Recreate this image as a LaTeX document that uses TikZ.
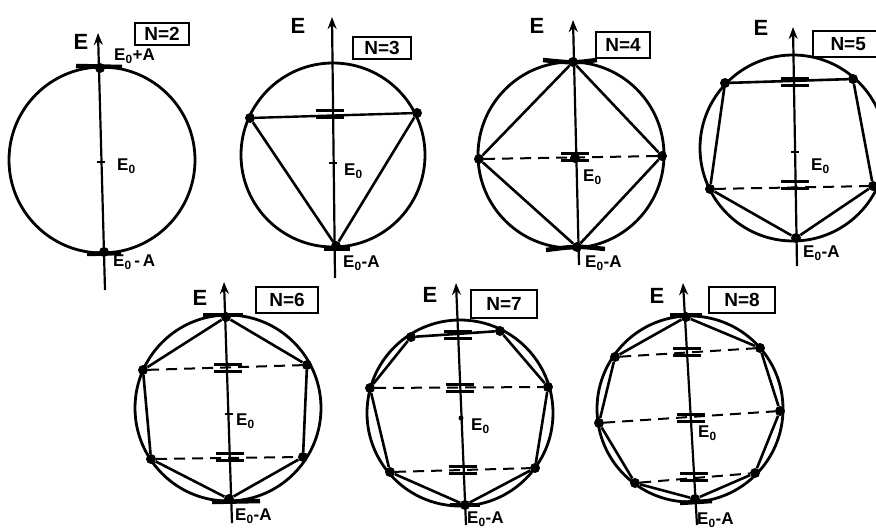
\documentclass[tikz,border=0pt]{standalone}
\usepackage{fontspec}
\setmainfont{Liberation Sans}
\usetikzlibrary{arrows.meta}
\newcommand{\Ez}{E\textsubscript{0}}
\begin{document}
\begin{tikzpicture}[x=1pt,y=-1pt,
  circ/.style={line width=2.8pt},
  edge/.style={line width=2.6pt, line join=round},
  chord/.style={line width=2pt, dash pattern=on 11pt off 7pt},
  solidchord/.style={line width=2.4pt},
  axisline/.style={line width=2.2pt,-{Stealth[length=12pt,width=9pt]}},
  vtx/.style={circle,fill,inner sep=0pt,minimum size=10pt},
  lvl/.style={line width=4.5pt},
  lab/.style={font=\fontsize{17}{17}\selectfont\bfseries, inner sep=1pt, anchor=west},
  elab/.style={font=\fontsize{22}{22}\selectfont\bfseries, inner sep=1pt},
  nbox/.style={draw,line width=2.4pt,font=\fontsize{19}{19}\selectfont\bfseries,inner sep=2pt,minimum height=22pt},
  dbl/.pic={\draw[line width=2.8pt] (-14,-3.5)--(14,-3.5) (-14,3.5)--(14,3.5);},
  etick/.pic={\draw[line width=2.8pt] (-4,0)--(4,0);}
]
\useasboundingbox (0,0) rectangle (876,532);

% ---------------- N=2
\coordinate (a2b) at (105,290); \coordinate (a2t) at (98,33);
\draw[circ] (102,160) circle[radius=93];
\draw[axisline] (a2b) -- (a2t);
\draw[lvl] (76,66) -- (122,67);
\draw[lvl] (87,254) -- (121,253);
\node[vtx] (v2t) at (100,68) {};
\node[vtx] (v2b) at (104,252) {};
\pic at (101,162) {etick};
\node[elab] (e2) at (81,42) {E};
\node[nbox,minimum width=54pt] (n2) at (162,34) {N=2};
\node[lab] (l2a) at (113,56) {\Ez+A};
\node[lab] (l2b) at (116,166) {\Ez};
\node[lab] (l2c) at (112,262) {\Ez\,-\,A};

% ---------------- N=3
\coordinate (a3b) at (335,278); \coordinate (a3t) at (332,17);
\draw[circ] (333,155) circle[radius=92];
\draw[axisline] (a3b) -- (a3t);
\node[vtx] (v3a) at (250,118) {};
\node[vtx] (v3b) at (417,113) {};
\node[vtx] (v3c) at (336,246) {};
\draw[solidchord] (v3a) -- (v3b);
\draw[edge] (v3b) -- (v3c) -- (v3a);
\draw[lvl] (324,249) -- (350,249);
\pic at (330,114) {dbl};
\pic at (333,163) {etick};
\node[elab] (e3) at (298,26) {E};
\node[nbox,minimum width=58pt] (n3) at (382,48) {N=3};
\node[lab] (l3b) at (343,171) {\Ez};
\node[lab] (l3c) at (342,263) {\Ez-A};

% ---------------- N=4
\coordinate (a4b) at (579,265); \coordinate (a4t) at (573,20);
\draw[circ] (571,155) circle[radius=93];
\draw[axisline] (a4b) -- (a4t);
\node[vtx] (v4t) at (573,62) {};
\node[vtx] (v4l) at (479,159) {};
\node[vtx] (v4r) at (662,156) {};
\node[vtx] (v4b) at (577,247) {};
\draw[edge] (v4t) -- (v4r) -- (v4b) -- (v4l) -- (v4t);
\draw[chord] (v4l) -- (v4r);
\draw[lvl] (543,60) .. controls (573,63) .. (597,60);
\draw[lvl] (546,250) .. controls (577,246) .. (605,249);
\pic at (575,157) {dbl};
\node[vtx] (v4c) at (575,158) {};
\node[elab] (e4) at (537,26) {E};
\node[nbox,minimum width=54pt,minimum height=26pt] (n4) at (623,45) {N=4};
\node[lab] (l4b) at (582,177) {\Ez};
\node[lab] (l4c) at (584,263) {\Ez-A};

% ---------------- N=5
\coordinate (a5b) at (797,266); \coordinate (a5t) at (793,27);
\draw[circ] (793,148) circle[radius=93];
\draw[axisline] (a5b) -- (a5t);
\node[vtx] (v5a) at (725,83) {};
\node[vtx] (v5b) at (853,79) {};
\node[vtx] (v5c) at (873,186) {};
\node[vtx] (v5d) at (796,238) {};
\node[vtx] (v5e) at (710,189) {};
\draw[edge] (v5a) -- (v5b) -- (v5c) -- (v5d) -- (v5e) -- (v5a);
\draw[chord] (v5e) -- (v5c);
\pic at (795,82) {dbl};
\pic at (795,185) {dbl};
\pic at (795,152) {etick};
\node[elab] (e5) at (761,28) {E};
\node[nbox,minimum width=70pt,minimum height=26pt,anchor=west] (n5) at (812,44) {N=5\hspace{14pt}};
\node[lab] (l5b) at (810,166) {\Ez};
\node[lab] (l5c) at (802,253) {\Ez-A};

% ---------------- N=6
\coordinate (a6b) at (232,523); \coordinate (a6t) at (224,282);
\draw[circ] (228,408) circle[radius=93];
\draw[axisline] (a6b) -- (a6t);
\node[vtx] (v6a) at (226,317) {};
\node[vtx] (v6b) at (307,365) {};
\node[vtx] (v6c) at (303,457) {};
\node[vtx] (v6d) at (229,499) {};
\node[vtx] (v6e) at (151,459) {};
\node[vtx] (v6f) at (143,370) {};
\draw[edge] (v6a) -- (v6b) -- (v6c) -- (v6d) -- (v6e) -- (v6f) -- (v6a);
\draw[chord] (v6f) -- (v6b);
\draw[chord] (v6e) -- (v6c);
\draw[lvl] (203,315) -- (243,315);
\draw[lvl] (212,502) -- (260,501);
\pic at (228,368) {dbl};
\pic at (230,457) {dbl};
\pic at (229,414) {etick};
\node[elab] (e6) at (200,298) {E};
\node[nbox,minimum width=62pt,minimum height=26pt] (n6) at (287,300) {N=6};
\node[lab] (l6b) at (235,421) {\Ez};
\node[lab] (l6c) at (234,516) {\Ez-A};

% ---------------- N=7
\coordinate (a7b) at (466,525); \coordinate (a7t) at (456,283);
\draw[circ] (460,413) circle[radius=93];
\draw[axisline] (a7b) -- (a7t);
\node[vtx] (v7a) at (411,337) {};
\node[vtx] (v7b) at (500,331) {};
\node[vtx] (v7c) at (548,387) {};
\node[vtx] (v7d) at (535,468) {};
\node[vtx] (v7e) at (465,505) {};
\node[vtx] (v7f) at (390,472) {};
\node[vtx] (v7g) at (370,388) {};
\draw[edge] (v7a) -- (v7b) -- (v7c) -- (v7d) -- (v7e) -- (v7f) -- (v7g) -- (v7a);
\draw[chord] (v7g) -- (v7c);
\draw[chord] (v7f) -- (v7d);
\draw[lvl] (450,505) -- (480,505);
\pic at (458,335) {dbl};
\pic at (460,388) {dbl};
\pic at (463,470) {dbl};
\node[vtx,minimum size=5pt] (v7o) at (461,418) {};
\node[elab] (e7) at (430,295) {E};
\node[nbox,minimum width=66pt,minimum height=28pt] (n7) at (504,304) {N=7};
\node[lab] (l7b) at (470,426) {\Ez};
\node[lab] (l7c) at (466,519) {\Ez-A};

% ---------------- N=8
\coordinate (a8b) at (697,525); \coordinate (a8t) at (683,283);
\draw[circ] (690,409) circle[radius=93];
\draw[axisline] (a8b) -- (a8t);
\node[vtx] (v8a) at (686,317) {};
\node[vtx] (v8b) at (760,348) {};
\node[vtx] (v8c) at (780,411) {};
\node[vtx] (v8d) at (755,473) {};
\node[vtx] (v8e) at (695,499) {};
\node[vtx] (v8f) at (635,483) {};
\node[vtx] (v8g) at (599,423) {};
\node[vtx] (v8h) at (615,357) {};
\draw[edge] (v8a) -- (v8b) -- (v8c) -- (v8d) -- (v8e) -- (v8f) -- (v8g) -- (v8h) -- (v8a);
\draw[chord] (v8h) -- (v8b);
\draw[chord] (v8g) -- (v8c);
\draw[chord] (v8f) -- (v8d);
\draw[lvl] (670,315) -- (702,315);
\draw[lvl] (680,503) -- (712,501);
\pic at (687,352) {dbl};
\pic at (691,418) {dbl};
\pic at (694,477) {dbl};
\node[elab] (e8) at (657,296) {E};
\node[nbox,minimum width=66pt,minimum height=26pt] (n8) at (742,300) {N=8};
\node[lab] (l8b) at (697,433) {\Ez};
\node[lab] (l8c) at (696,520) {\Ez-A};
\end{tikzpicture}
\end{document}
